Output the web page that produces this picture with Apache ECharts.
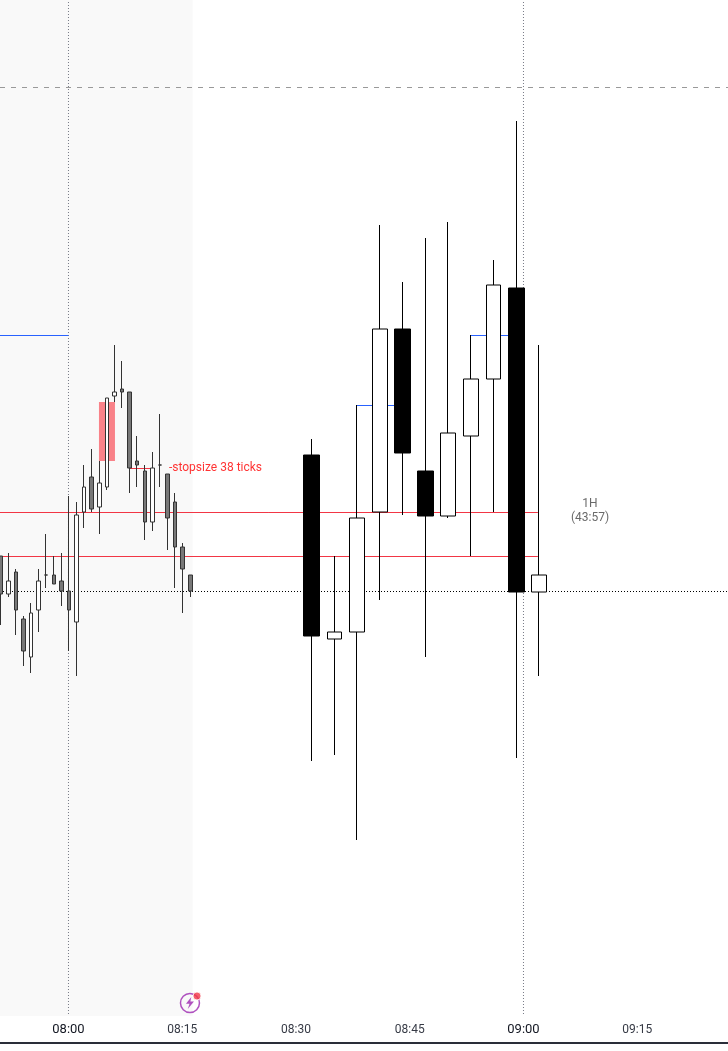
<!DOCTYPE html>
<html>
<head>
<meta charset="utf-8">
<title>1H chart</title>
<script src="https://cdn.jsdelivr.net/npm/echarts@6/dist/echarts.min.js"></script>
<style>
  html, body { margin: 0; padding: 0; background: #fff; }
  #main { width: 728px; height: 1051px; }
</style>
</head>
<body>
<div id="main"></div>
<script>
// x = minutes from 08:00, y = price in chart units, bars are [minute, open, close, low, high]
const smallBars = [
  [-9, 487, 449, 418, 487], [-8, 449, 462, 446, 490], [-7, 471, 433, 408, 474],
  [-6, 424, 392, 377, 427], [-5, 386, 430, 370, 440], [-4, 433, 462, 411, 474],
  [-3, 468, 468, 455, 509], [-2, 468, 459, 459, 487], [-1, 462, 452, 437, 490],
  [0, 452, 433, 392, 547], [1, 421, 528, 367, 541], [2, 531, 556, 515, 578],
  [3, 566, 534, 531, 594], [4, 536, 560, 509, 582], [5, 556, 645, 553, 645],
  [6, 647, 651, 641, 698], [7, 654, 651, 635, 682], [8, 651, 575, 550, 651],
  [9, 582, 578, 556, 607], [10, 572, 521, 503, 578], [11, 521, 575, 512, 591],
  [12, 578, 578, 556, 629], [13, 569, 525, 493, 569], [14, 541, 496, 455, 550],
  [15, 496, 474, 430, 500], [16, 468, 452, 446, 468]
];
const bigUpBars = [
  [35, 404, 411, 288, 487], [38, 411, 525, 203, 638], [41, 531, 714, 443, 818],
  [50, 527, 610, 525, 821], [53, 607, 664, 487, 708], [56, 664, 758, 531, 783],
  [62, 451, 468, 367, 698]
];
const bigDownBars = [
  [32, 588, 407, 282, 604], [44, 714, 590, 528, 761],
  [47, 572, 527, 386, 805], [59, 755, 451, 285, 922]
];

const axisMinutes = [0, 15, 30, 45, 60, 75];
const xMin = -9.03;
const xMax = 86.97;
const yMax = 1043;
const barShift = 0.066; // bars land half a pixel right of the hour lines

const redLevels = [[xMin, 530.5, 61.9], [xMin, 486.5, 61.9], [8, 574.5, 11]];
const blueLevels = [[xMin, 707.5, 0], [38, 637.5, 43], [53, 707.5, 58]];
const lastPrice = 451.5;
const upperLevel = 955.5;
const sessionShade = [xMin, 16.37];
const entryBox = [4.02, 6.13, 582, 641];
const hourLines = [0, 60];

const stopLabel = [13.25, 575];
const timerLabel = [68.77, 532];
const iconRing = [16.02, 40];
const iconDot = [16.95, 47];

function fmtTime(m) {
  const h = 8 + Math.floor(m / 60);
  const mm = m % 60;
  return '0' + h + ':' + (mm < 10 ? '0' + mm : mm);
}

function shifted(bars) {
  return bars.map(b => [b[0] + barShift, b[1], b[2], b[3], b[4]]);
}

function segment(name, points, color, type, width) {
  return {
    name: name,
    type: 'line',
    z: 2,
    symbol: 'none',
    silent: true,
    data: points,
    lineStyle: { color: color, width: width || 1, type: type || 'solid' }
  };
}

const series = [];

// shaded session and the pink box, both sit under everything
series.push({
  type: 'line',
  data: [],
  markArea: {
    z: 1,
    silent: true,
    data: [
      [{ coord: [sessionShade[0], 27], itemStyle: { color: '#f9f9f9' } }, { coord: [sessionShade[1], yMax] }],
      [{ coord: [entryBox[0], entryBox[2]], itemStyle: { color: '#f98289' } }, { coord: [entryBox[1], entryBox[3]] }]
    ]
  }
});

hourLines.forEach(m => {
  series.push(segment('hour', [[m, 29], [m, yMax]], '#787b86', [1, 2]));
});
series.push(segment('upper', [[xMin, upperLevel], [xMax, upperLevel]], '#999', [5, 6]));
series.push(segment('last', [[xMin, lastPrice], [xMax, lastPrice]], '#000', [1, 2]));
redLevels.forEach(l => {
  series.push(segment('red', [[l[0], l[1]], [l[2], l[1]]], '#f23645'));
});
blueLevels.forEach(l => {
  series.push(segment('blue', [[l[0], l[1]], [l[2], l[1]]], '#2962ff'));
});

series.push({
  name: 'small',
  type: 'candlestick',
  z: 3,
  barWidth: 4,
  data: shifted(smallBars),
  itemStyle: {
    color: '#fff', color0: '#787878',
    borderColor: '#333', borderColor0: '#333', borderColorDoji: '#333', borderWidth: 1
  }
});
series.push({
  name: 'bigUp',
  type: 'candlestick',
  z: 3,
  barWidth: 15,
  data: shifted(bigUpBars),
  itemStyle: { color: '#fff', color0: '#000', borderColor: '#000', borderColor0: '#000', borderWidth: 1 }
});
series.push({
  name: 'bigDown',
  type: 'candlestick',
  z: 3,
  barWidth: 16,
  data: shifted(bigDownBars),
  itemStyle: { color: '#fff', color0: '#000', borderColor: '#000', borderColor0: '#000', borderWidth: 1 }
});

series.push({
  type: 'scatter',
  z: 4,
  silent: true,
  symbolSize: 0,
  data: [{ value: stopLabel, label: { formatter: '-stopsize 38 ticks' } }],
  label: { show: true, position: 'right', distance: 0, color: '#f00', fontFamily: 'Roboto', fontSize: 12 }
});
series.push({
  type: 'scatter',
  z: 4,
  silent: true,
  symbolSize: 0,
  data: [{ value: timerLabel, label: { formatter: '1H\n(43:57)' } }],
  label: { show: true, position: 'inside', color: '#444', fontFamily: 'Roboto', fontSize: 12, lineHeight: 14 }
});

// lightning badge under the shaded area
series.push({
  type: 'scatter', z: 4, silent: true, symbol: 'circle', symbolSize: 19, data: [iconRing],
  itemStyle: { color: 'transparent', borderColor: '#9c27b0', borderWidth: 1.5 }
});
series.push({
  type: 'scatter', z: 4, silent: true,
  symbol: 'path://M6 0L0 9h4l-2 7 7-10H5z', symbolSize: [8, 12], data: [iconRing],
  itemStyle: { color: '#9c27b0' }
});
series.push({
  type: 'scatter', z: 5, silent: true, symbol: 'circle', symbolSize: 8, data: [iconDot],
  itemStyle: { color: '#f23645', borderColor: '#fff', borderWidth: 1 }
});

const chart = echarts.init(document.getElementById('main'));
chart.setOption({
  animation: false,
  backgroundColor: '#fff',
  grid: { left: 0, right: 0, top: 0, height: yMax },
  xAxis: {
    type: 'value',
    min: xMin,
    max: xMax,
    splitLine: { show: false },
    axisTick: { show: false },
    axisLine: { show: true, lineStyle: { color: '#2a2e39', width: 2 } },
    axisLabel: {
      inside: true,
      margin: 7,
      customValues: axisMinutes,
      fontFamily: 'Roboto',
      formatter: v => {
        const t = fmtTime(v);
        return v % 60 === 0 ? '{hour|' + t + '}' : '{min|' + t + '}';
      },
      rich: {
        hour: { fontFamily: 'Roboto', fontSize: 13, color: '#131722' },
        min: { fontFamily: 'Roboto', fontSize: 12, color: '#363a45' }
      }
    }
  },
  yAxis: { type: 'value', min: 0, max: yMax, show: false },
  series: series
});
</script>
</body>
</html>
